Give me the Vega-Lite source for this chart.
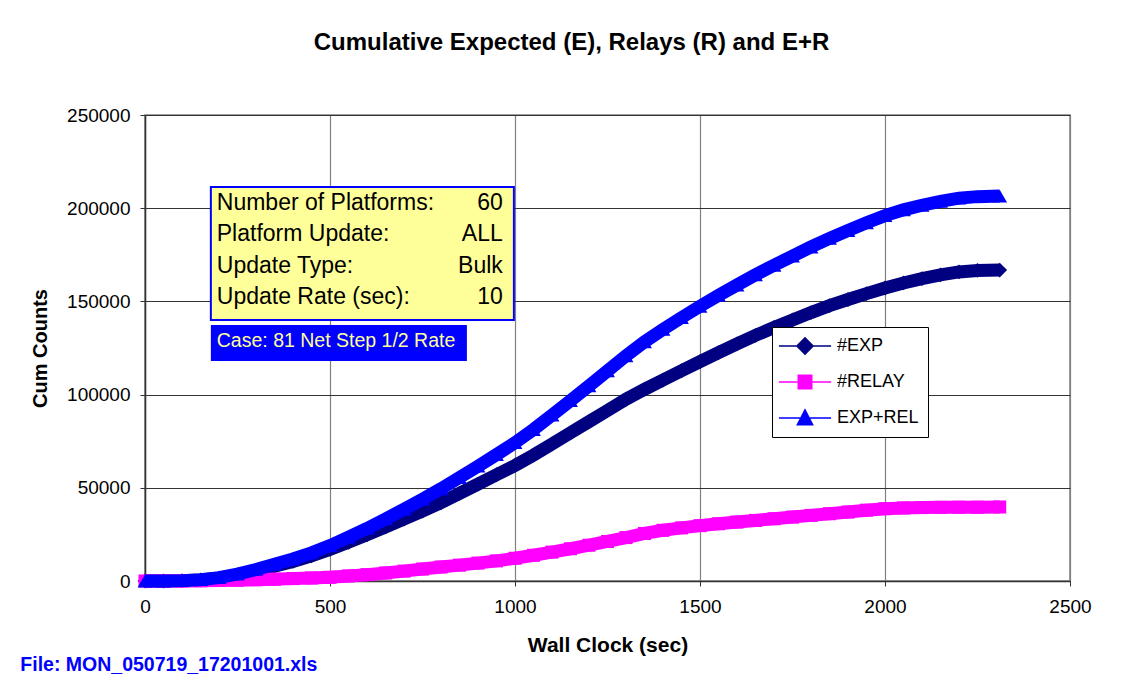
{
  "$schema": "https://vega.github.io/schema/vega-lite/v6.json",
  "width": 925,
  "height": 466,
  "autosize": {"type": "none"},
  "padding": {"left": 145, "top": 115, "right": 68, "bottom": 107},
  "background": "white",
  "config": {"font": "Liberation Sans", "view": {"stroke": "#808080", "strokeWidth": 1.5}},
  "title": {"text": "Cumulative Expected (E), Relays (R) and E+R", "fontSize": 24, "fontWeight": "bold", "font": "Liberation Sans", "anchor": "middle", "dx": -36, "offset": 51, "color": "black"},
  "datasets": {
    "curves": [
      {"t": 0, "#EXP": 0, "#RELAY": 0, "EXP+REL": 0},
      {"t": 50, "#EXP": 0, "#RELAY": 0, "EXP+REL": 0},
      {"t": 100, "#EXP": 200, "#RELAY": 0, "EXP+REL": 200},
      {"t": 150, "#EXP": 600, "#RELAY": 100, "EXP+REL": 700},
      {"t": 200, "#EXP": 1500, "#RELAY": 300, "EXP+REL": 1800},
      {"t": 250, "#EXP": 3300, "#RELAY": 450, "EXP+REL": 3750},
      {"t": 300, "#EXP": 5500, "#RELAY": 700, "EXP+REL": 6200},
      {"t": 350, "#EXP": 8000, "#RELAY": 1000, "EXP+REL": 9000},
      {"t": 400, "#EXP": 10500, "#RELAY": 1300, "EXP+REL": 11800},
      {"t": 450, "#EXP": 13500, "#RELAY": 1600, "EXP+REL": 15100},
      {"t": 500, "#EXP": 17000, "#RELAY": 2000, "EXP+REL": 19000},
      {"t": 550, "#EXP": 20800, "#RELAY": 2700, "EXP+REL": 23500},
      {"t": 600, "#EXP": 24800, "#RELAY": 3400, "EXP+REL": 28200},
      {"t": 650, "#EXP": 29000, "#RELAY": 4300, "EXP+REL": 33300},
      {"t": 700, "#EXP": 33200, "#RELAY": 5300, "EXP+REL": 38500},
      {"t": 750, "#EXP": 37500, "#RELAY": 6400, "EXP+REL": 43900},
      {"t": 800, "#EXP": 42000, "#RELAY": 7500, "EXP+REL": 49500},
      {"t": 850, "#EXP": 47000, "#RELAY": 8500, "EXP+REL": 55500},
      {"t": 900, "#EXP": 52000, "#RELAY": 9600, "EXP+REL": 61600},
      {"t": 950, "#EXP": 57000, "#RELAY": 10800, "EXP+REL": 67800},
      {"t": 1000, "#EXP": 62000, "#RELAY": 12200, "EXP+REL": 74200},
      {"t": 1050, "#EXP": 67500, "#RELAY": 13800, "EXP+REL": 81300},
      {"t": 1100, "#EXP": 73500, "#RELAY": 15500, "EXP+REL": 89000},
      {"t": 1150, "#EXP": 79500, "#RELAY": 17300, "EXP+REL": 96800},
      {"t": 1200, "#EXP": 85500, "#RELAY": 19200, "EXP+REL": 104700},
      {"t": 1250, "#EXP": 91500, "#RELAY": 21200, "EXP+REL": 112700},
      {"t": 1300, "#EXP": 97500, "#RELAY": 23300, "EXP+REL": 120800},
      {"t": 1350, "#EXP": 102800, "#RELAY": 25500, "EXP+REL": 128300},
      {"t": 1400, "#EXP": 107800, "#RELAY": 27200, "EXP+REL": 135000},
      {"t": 1450, "#EXP": 112800, "#RELAY": 28500, "EXP+REL": 141300},
      {"t": 1500, "#EXP": 117700, "#RELAY": 29700, "EXP+REL": 147400},
      {"t": 1550, "#EXP": 122500, "#RELAY": 30700, "EXP+REL": 153200},
      {"t": 1600, "#EXP": 127200, "#RELAY": 31600, "EXP+REL": 158800},
      {"t": 1650, "#EXP": 131800, "#RELAY": 32500, "EXP+REL": 164300},
      {"t": 1700, "#EXP": 136000, "#RELAY": 33400, "EXP+REL": 169400},
      {"t": 1750, "#EXP": 140000, "#RELAY": 34300, "EXP+REL": 174300},
      {"t": 1800, "#EXP": 144000, "#RELAY": 35200, "EXP+REL": 179200},
      {"t": 1850, "#EXP": 147700, "#RELAY": 36100, "EXP+REL": 183800},
      {"t": 1900, "#EXP": 151000, "#RELAY": 37000, "EXP+REL": 188000},
      {"t": 1950, "#EXP": 154200, "#RELAY": 38000, "EXP+REL": 192200},
      {"t": 2000, "#EXP": 157200, "#RELAY": 38800, "EXP+REL": 196000},
      {"t": 2050, "#EXP": 159900, "#RELAY": 39200, "EXP+REL": 199100},
      {"t": 2100, "#EXP": 162200, "#RELAY": 39400, "EXP+REL": 201600},
      {"t": 2150, "#EXP": 164200, "#RELAY": 39500, "EXP+REL": 203700},
      {"t": 2200, "#EXP": 165800, "#RELAY": 39600, "EXP+REL": 205400},
      {"t": 2250, "#EXP": 166600, "#RELAY": 39600, "EXP+REL": 206200},
      {"t": 2310, "#EXP": 166800, "#RELAY": 39700, "EXP+REL": 206500}
    ],
    "boxes": [
      {"box": "info", "t": 178, "t2": 997, "v": 211400, "v2": 140000},
      {"box": "case", "t": 178, "t2": 870, "v": 137300, "v2": 118000}
    ],
    "notes": [
      {"t": 194, "v": 202800, "txt": "Number of Platforms:\nPlatform Update:\nUpdate Type:\nUpdate Rate (sec):"}
    ],
    "notevals": [
      {"t": 967, "v": 202800, "txt": "60\nALL\nBulk\n10"}
    ],
    "casenote": [
      {"t": 194, "v": 128700, "txt": "Case: 81 Net Step 1/2 Rate"}
    ],
    "footer": [
      {"t": -337, "v": -45000, "txt": "File: MON_050719_17201001.xls"}
    ]
  },
  "encoding": {
    "x": {
      "field": "t", "type": "quantitative",
      "scale": {"domain": [0, 2500], "nice": false, "zero": false},
      "axis": {"values": [0, 500, 1000, 1500, 2000, 2500], "format": "d", "title": "Wall Clock (sec)", "grid": true, "gridColor": "#808080", "gridWidth": 1.2, "domainColor": "#333333", "domainWidth": 1.5, "tickColor": "#333333", "tickSize": 5, "labelFontSize": 19, "labelColor": "black", "labelPadding": 11, "titleFontSize": 21, "titleFontWeight": "bold", "titleColor": "black", "titlePadding": 18, "labelFlush": false}
    },
    "y": {
      "field": "v", "type": "quantitative",
      "scale": {"domain": [0, 250000], "nice": false},
      "axis": {"values": [0, 50000, 100000, 150000, 200000, 250000], "format": "d", "title": "Cum Counts", "grid": true, "gridColor": "#333333", "gridWidth": 1.2, "domainColor": "#333333", "domainWidth": 1.5, "tickColor": "#333333", "tickSize": 5, "labelFontSize": 19, "labelColor": "black", "labelPadding": 10, "titleFontSize": 20, "titleFontWeight": "bold", "titleColor": "black", "titlePadding": 16, "labelFlush": false}
    }
  },
  "layer": [
    {
      "data": {"name": "boxes"},
      "transform": [{"filter": "datum.box == 'info'"}],
      "mark": {"type": "rect", "fill": "#FFFF99", "stroke": "#0000FF", "strokeWidth": 2},
      "encoding": {"x2": {"field": "t2"}, "y2": {"field": "v2"}}
    },
    {
      "data": {"name": "boxes"},
      "transform": [{"filter": "datum.box == 'case'"}],
      "mark": {"type": "rect", "fill": "#0000FF", "stroke": null},
      "encoding": {"x2": {"field": "t2"}, "y2": {"field": "v2"}}
    },
    {
      "data": {"name": "notes"},
      "mark": {"type": "text", "align": "left", "baseline": "middle", "fontSize": 23, "lineHeight": 31.3, "lineBreak": "\n", "color": "black", "font": "Liberation Sans"},
      "encoding": {"text": {"field": "txt"}}
    },
    {
      "data": {"name": "notevals"},
      "mark": {"type": "text", "align": "right", "baseline": "middle", "fontSize": 23, "lineHeight": 31.3, "lineBreak": "\n", "color": "black", "font": "Liberation Sans"},
      "encoding": {"text": {"field": "txt"}}
    },
    {
      "data": {"name": "casenote"},
      "mark": {"type": "text", "align": "left", "baseline": "middle", "fontSize": 19.5, "color": "#FFFF99", "font": "Liberation Sans"},
      "encoding": {"text": {"field": "txt"}}
    },
    {
      "data": {"name": "footer"},
      "mark": {"type": "text", "align": "left", "baseline": "middle", "fontSize": 19.5, "fontWeight": "bold", "color": "#0000FF", "font": "Liberation Sans"},
      "encoding": {"text": {"field": "txt"}}
    },
    {
      "data": {"name": "curves"},
      "transform": [{"fold": ["#EXP", "#RELAY", "EXP+REL"], "as": ["series", "v"]}, {"filter": "datum.series == '#EXP'"}],
      "mark": {"type": "line", "strokeWidth": 13, "point": {"filled": true, "shape": "diamond", "size": 220}},
      "encoding": {
        "color": {
          "field": "series", "type": "nominal",
          "scale": {"domain": ["#EXP", "#RELAY", "EXP+REL"], "range": ["#000080", "#FF00FF", "#0000FF"]},
          "legend": {
            "orient": "none", "legendX": 627, "legendY": 212, "title": null,
            "strokeColor": "black", "fillColor": "white", "padding": 9,
            "symbolSize": 324, "symbolOffset": 14, "labelOffset": 22, "rowPadding": 14,
            "labelFontSize": 18, "labelFont": "Liberation Sans", "labelColor": "black",
            "encode": {
              "symbols": {
                "update": {
                  "shape": {"signal": "datum.value == '#EXP' ? 'M-2.9,0H2.9M-0.9,0L0,-0.9L0.9,0L0,0.9Z' : datum.value == '#RELAY' ? 'M-2.9,0H2.9M-0.75,-0.75H0.75V0.75H-0.75Z' : 'M-2.9,0H2.9M0,-0.9L0.85,0.75H-0.85Z'"},
                  "fill": {"scale": "color", "field": "value"},
                  "stroke": {"scale": "color", "field": "value"},
                  "strokeWidth": {"value": 1.5},
                  "opacity": {"value": 1}
                }
              }
            }
          }
        }
      }
    },
    {
      "data": {"name": "curves"},
      "transform": [{"fold": ["#EXP", "#RELAY", "EXP+REL"], "as": ["series", "v"]}, {"filter": "datum.series == '#RELAY'"}],
      "mark": {"type": "line", "strokeWidth": 13, "point": {"filled": true, "shape": "square", "size": 170}},
      "encoding": {"color": {"field": "series", "type": "nominal"}}
    },
    {
      "data": {"name": "curves"},
      "transform": [{"fold": ["#EXP", "#RELAY", "EXP+REL"], "as": ["series", "v"]}, {"filter": "datum.series == 'EXP+REL'"}],
      "mark": {"type": "line", "strokeWidth": 13, "point": {"filled": true, "shape": "triangle-up", "size": 220}},
      "encoding": {"color": {"field": "series", "type": "nominal"}}
    }
  ]
}
